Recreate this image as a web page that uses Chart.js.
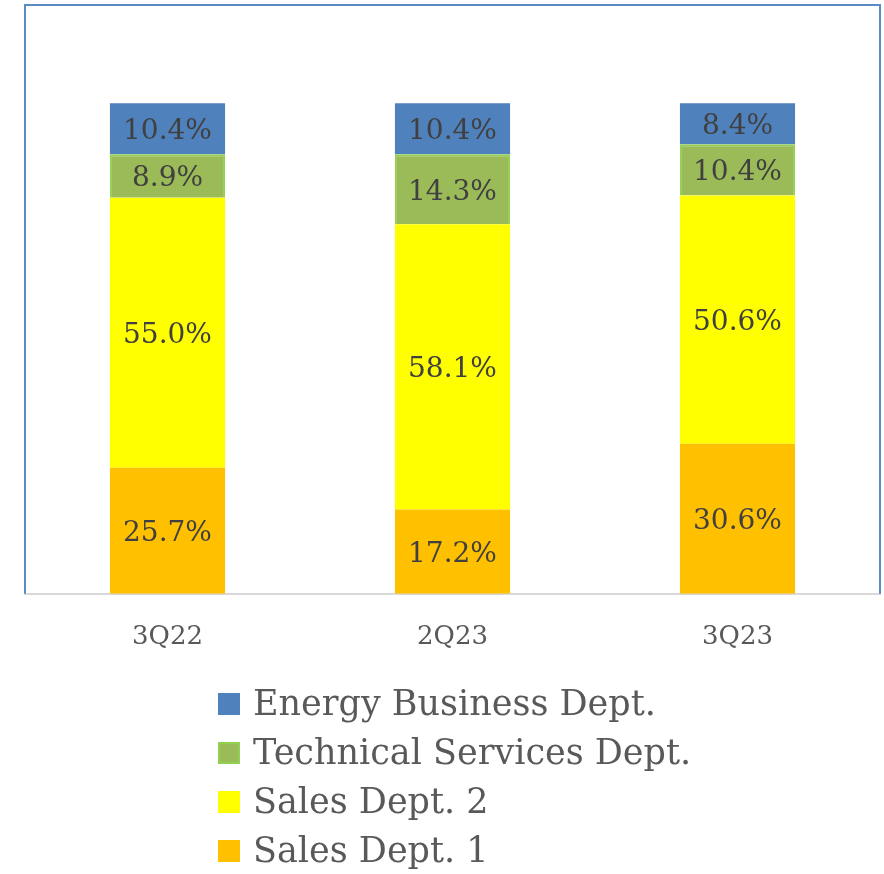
<!DOCTYPE html>
<html>
<head>
<meta charset="utf-8">
<script src="https://cdn.jsdelivr.net/npm/chart.js@4/dist/chart.umd.min.js"></script>
<style>
  html, body { margin: 0; padding: 0; background: #fff; }
  #wrap { position: relative; width: 884px; height: 874px; }
  #chartBox { position: absolute; left: 0; top: 0; width: 884px; height: 689px; }
  #legend { position: absolute; left: 218px; top: 679px; margin: 0; padding: 0; list-style: none;
            font-family: "DejaVu Serif", serif; font-size: 35px; color: #595959; }
  #legend li { height: 49px; line-height: 49px; display: flex; align-items: center; white-space: nowrap; }
  #legend .box { width: 22px; height: 22px; box-sizing: border-box; margin-right: 13px; }
</style>
</head>
<body>
<div id="wrap">
  <div id="chartBox"><canvas id="shareChart"></canvas></div>
  <ul id="legend"></ul>
</div>
<script>
const quarters = ['3Q22', '2Q23', '3Q23'];
const salesDept1 = [25.7, 17.2, 30.6];
const salesDept2 = [55.0, 58.1, 50.6];
const techServices = [8.9, 14.3, 10.4];
const energyBusiness = [10.4, 10.4, 8.4];

// draws the blue frame round the plot (bottom edge is the grey axis line)
const frame = {
  id: 'frame',
  beforeDatasetsDraw(chart) {
    const { ctx, chartArea: a } = chart;
    ctx.save();
    ctx.strokeStyle = '#5B8BC7';
    ctx.lineWidth = 2;
    ctx.beginPath();
    ctx.moveTo(a.left, a.bottom);
    ctx.lineTo(a.left, a.top);
    ctx.lineTo(a.right, a.top);
    ctx.lineTo(a.right, a.bottom);
    ctx.stroke();
    ctx.restore();
  }
};

// value labels in the middle of each segment
const segLabels = {
  id: 'segLabels',
  afterDatasetsDraw(chart) {
    const ctx = chart.ctx;
    ctx.save();
    ctx.font = '28px "DejaVu Serif"';
    ctx.fillStyle = '#404040';
    ctx.textAlign = 'center';
    ctx.textBaseline = 'middle';
    chart.data.datasets.forEach((ds, i) => {
      chart.getDatasetMeta(i).data.forEach((bar, j) => {
        const mid = (bar.y + bar.base) / 2;
        ctx.fillText(ds.data[j].toFixed(1) + '%', bar.x, mid + 3);
      });
    });
    ctx.restore();
  }
};

const ctxShare = document.getElementById('shareChart');
const shareChart = new Chart(ctxShare, {
  type: 'bar',
  data: {
    labels: quarters,
    datasets: [
      { label: 'Sales Dept. 1', data: salesDept1, backgroundColor: '#FFC000' },
      { label: 'Sales Dept. 2', data: salesDept2, backgroundColor: '#FFFF00' },
      { label: 'Technical Services Dept.', data: techServices, backgroundColor: '#9BBB59',
        borderColor: '#92D050', borderWidth: 2 },
      { label: 'Energy Business Dept.', data: energyBusiness, backgroundColor: '#4F81BD' }
    ]
  },
  options: {
    responsive: true,
    maintainAspectRatio: false,
    animation: false,
    layout: { padding: { left: 25, right: 4, top: 5, bottom: 8 } },
    datasets: { bar: { barPercentage: 0.404, categoryPercentage: 1 } },
    scales: {
      x: {
        stacked: true,
        grid: { display: false, drawTicks: false },
        border: { color: '#D9D9D9', width: 2 },
        ticks: { color: '#595959', padding: 28, font: { family: 'DejaVu Serif', size: 26 } }
      },
      y: { stacked: true, min: 0, max: 120, display: false }
    },
    plugins: {
      legend: { display: false },
      tooltip: { enabled: false }
    }
  },
  plugins: [frame, segLabels]
});

// legend below the chart, top item = top of the stack
const legendEl = document.getElementById('legend');
shareChart.data.datasets.slice().reverse().forEach(ds => {
  const li = document.createElement('li');
  const box = document.createElement('span');
  box.className = 'box';
  box.style.background = ds.backgroundColor;
  if (ds.borderWidth) box.style.border = '2px solid ' + ds.borderColor;
  li.appendChild(box);
  li.appendChild(document.createTextNode(ds.label));
  legendEl.appendChild(li);
});
</script>
</body>
</html>
